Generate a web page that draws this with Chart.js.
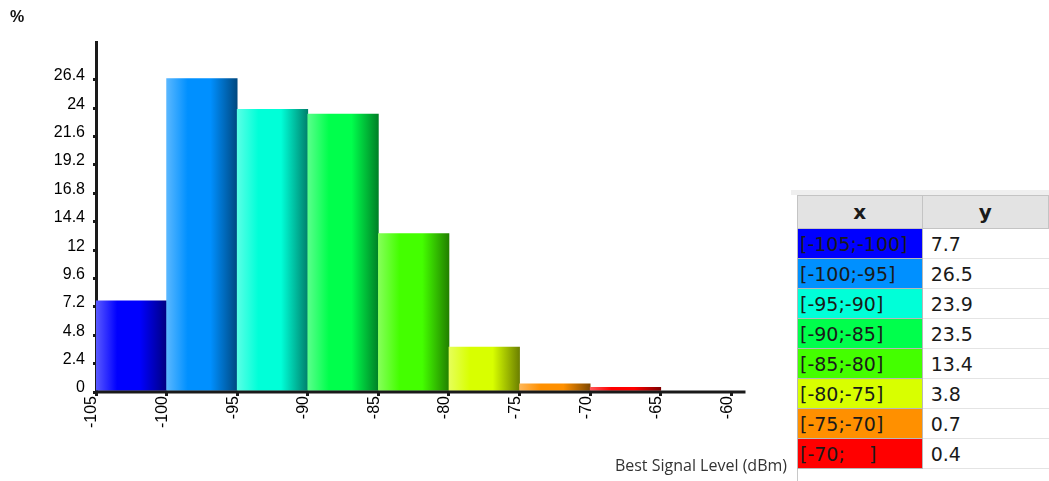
<!DOCTYPE html>
<html>
<head>
<meta charset="utf-8">
<script src="https://cdn.jsdelivr.net/npm/chart.js@4/dist/chart.umd.min.js"></script>
<style>
    html, body { margin: 0; padding: 0; background: #fff; width: 1049px; height: 481px; overflow: hidden; }
    #chart-box { position: absolute; left: 0; top: 0; width: 790px; height: 481px; }
    #grid-box {
        position: absolute; left: 791px; top: 190px; width: 258px; height: 291px;
        border-top: 5px solid #efefef; box-sizing: border-box;
    }
    #grid-box table {
        position: absolute; left: 6px; top: 0; border-collapse: collapse;
        font-family: "DejaVu Sans", sans-serif; font-size: 19px; color: #1a1a1a;
    }
    #grid-box .edge { position: absolute; left: 6px; top: 0; bottom: 0; border-left: 1px solid #c8c8c8; }
    #grid-box th {
        height: 32px; padding: 0; background: #e3e3e3; border: 1px solid #c4c4c4;
        font-weight: bold; font-size: 20px; text-align: center;
    }
    #grid-box td { height: 29px; padding: 0 0 0 2px; white-space: pre; }
    #grid-box td.x { width: 123px; border: 1px solid #b8b8b8; }
    #grid-box td.y { width: 125px; padding-left: 8px; border-bottom: 1px solid #e4e4e4; }
</style>
</head>
<body>
<div id="chart-box"><canvas id="chart"></canvas></div>
<div id="grid-box"><div class="edge"></div><table id="grid"><thead><tr><th>x</th><th>y</th></tr></thead><tbody></tbody></table></div>

<script>
// bins of the histogram (dBm), each 5 wide
const binStarts = [-105, -100, -95, -90, -85, -80, -75, -70];
const binWidth = 5;
const binLabels = ['[-105;-100]', '[-100;-95]', '[-95;-90]', '[-90;-85]', '[-85;-80]', '[-80;-75]', '[-75;-70]', '[-70;    ]'];
const percentValues = [7.7, 26.5, 23.9, 23.5, 13.4, 3.8, 0.7, 0.4];
const binColors = ['#0000ff', '#0090ff', '#00ffd8', '#00ff4c', '#44ff00', '#d8ff00', '#ff9000', '#ff0000'];

const xTickValues = [-105, -100, -95, -90, -85, -80, -75, -70, -65, -60];
const yTickValues = [0, 2.4, 4.8, 7.2, 9.6, 12, 14.4, 16.8, 19.2, 21.6, 24, 26.4];
const yTickLabels = ['0', '2.4', '4.8', '7.2', '9.6', '12', '14.4', '16.8', '19.2', '21.6', '24', '26.4'];
const axisRange = [-105, -59];

function shade(hex, t) {
    const n = parseInt(hex.slice(1), 16);
    const ch = [(n >> 16) & 255, (n >> 8) & 255, n & 255].map(c =>
        Math.round(t >= 0 ? c + (255 - c) * t : c * (1 + t)));
    return `rgb(${ch[0]}, ${ch[1]}, ${ch[2]})`;
}

function barFill(context) {
    const i = context.dataIndex;
    const chart = context.chart;
    const x = chart.scales.x;
    if (!chart.chartArea || !x) return binColors[i];
    const x0 = x.getPixelForValue(binStarts[i]);
    const x1 = x.getPixelForValue(binStarts[i] + binWidth);
    const g = chart.ctx.createLinearGradient(x0, 0, x1, 0);
    g.addColorStop(0, shade(binColors[i], 0.35));
    g.addColorStop(0.3, binColors[i]);
    g.addColorStop(0.62, binColors[i]);
    g.addColorStop(1, shade(binColors[i], -0.5));
    return g;
}

// table on the right
const tbody = document.querySelector('#grid tbody');
binLabels.forEach((label, i) => {
    const row = document.createElement('tr');
    row.innerHTML = `<td class="x" style="background:${binColors[i]}">${label}</td><td class="y">${percentValues[i]}</td>`;
    tbody.appendChild(row);
});

const canvas = document.getElementById('chart');
canvas.width = 790;
canvas.height = 481;

new Chart(canvas.getContext('2d'), {
    data: {
        datasets: [{
            // the x axis line stops at -59, not at the edge of the plot
            type: 'line',
            order: 0,
            data: axisRange.map(v => ({ x: v, y: 0 })),
            borderColor: '#1a1a1a',
            borderWidth: 3,
            pointRadius: 0,
            clip: false
        }, {
            type: 'bar',
            order: 1,
            data: binStarts.map((s, i) => ({ x: s + binWidth / 2, y: percentValues[i] })),
            backgroundColor: barFill,
            borderWidth: 0,
            barPercentage: 1,
            categoryPercentage: 1,
            grouped: false
        }]
    },
    options: {
        responsive: false,
        animation: false,
        layout: { padding: { left: 10, right: 3, top: 0, bottom: 0 } },
        plugins: {
            legend: { display: false },
            tooltip: { enabled: false },
            subtitle: {
                display: true,
                text: '%',
                position: 'top',
                align: 'start',
                color: '#111',
                font: { family: 'Liberation Sans', size: 16, weight: 'bold' },
                padding: { top: 8, bottom: 14.8 }
            },
            title: {
                display: true,
                text: 'Best Signal Level (dBm)',
                position: 'bottom',
                align: 'end',
                color: '#333',
                font: { family: 'Open Sans', size: 16, weight: 'normal' },
                padding: { top: 0, bottom: 4.5 }
            }
        },
        scales: {
            x: {
                type: 'linear',
                min: -105,
                max: -56.06,
                offset: false,
                afterBuildTicks: s => { s.ticks = xTickValues.map(v => ({ value: v })); },
                afterFit: s => { s.height = 65.3; },
                border: { display: false },
                grid: { offset: false, drawOnChartArea: false, tickLength: 4, lineWidth: 3, color: '#1a1a1a' },
                ticks: {
                    minRotation: 90,
                    maxRotation: 90,
                    padding: 0,
                    labelOffset: -4,
                    color: '#000',
                    font: { family: 'Liberation Sans', size: 16 },
                    callback: v => String(v)
                }
            },
            y: {
                min: 0,
                max: 29.6,
                afterBuildTicks: s => { s.ticks = yTickValues.map(v => ({ value: v })); },
                afterFit: s => { s.width = 86; },
                border: { display: true, color: '#1a1a1a', width: 3 },
                grid: { drawOnChartArea: false, tickLength: 3, lineWidth: 3, color: '#1a1a1a' },
                ticks: {
                    padding: 8,
                    labelOffset: -4,
                    color: '#000',
                    font: { family: 'Liberation Sans', size: 16 },
                    callback: (v, i) => yTickLabels[i]
                }
            }
        }
    }
});
</script>
</body>
</html>
